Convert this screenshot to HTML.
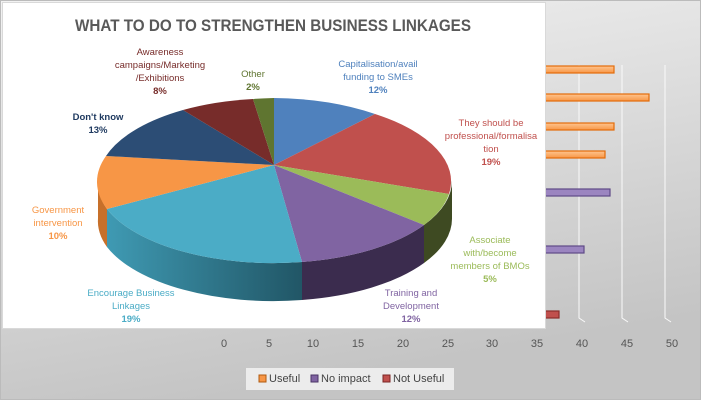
<!DOCTYPE html><html><head><style>
body{margin:0;width:701px;height:400px;overflow:hidden;font-family:"Liberation Sans",sans-serif}
</style></head><body>
<svg width="701" height="400" xmlns="http://www.w3.org/2000/svg" font-family="Liberation Sans, sans-serif">
<defs>
<linearGradient id="bg" x1="0" y1="0" x2="0.3" y2="1"><stop offset="0" stop-color="#f2f2f2"/><stop offset="1" stop-color="#c4c4c4"/></linearGradient>
<linearGradient id="ob" x1="0" y1="0" x2="0" y2="1"><stop offset="0" stop-color="#ffc58f"/><stop offset="1" stop-color="#f79646"/></linearGradient>
<linearGradient id="cy" x1="0" y1="0" x2="1" y2="0"><stop offset="0" stop-color="#3f9ab3"/><stop offset="1" stop-color="#215666"/></linearGradient>
</defs>
<rect width="701" height="400" fill="url(#bg)"/>
<rect x="0.5" y="0.5" width="700" height="399" fill="none" stroke="#bbb"/>
<g stroke="#fafafa" stroke-width="1" fill="none">
<path d="M579 65V318l6 4M622 65V318l6 4M665 65V318l6 4"/>
</g>
<g stroke-width="1.2">
<rect x="530" y="66" width="84" height="7" fill="url(#ob)" stroke="#e36c0a"/>
<rect x="530" y="94" width="119" height="7" fill="url(#ob)" stroke="#e36c0a"/>
<rect x="530" y="123" width="84" height="7" fill="url(#ob)" stroke="#e36c0a"/>
<rect x="530" y="151" width="75" height="7" fill="url(#ob)" stroke="#e36c0a"/>
<rect x="530" y="189" width="80" height="7" fill="#9b85c0" stroke="#5f4a87"/>
<rect x="530" y="246" width="54" height="7" fill="#9b85c0" stroke="#5f4a87"/>
<rect x="530" y="311" width="29" height="7" fill="#c0504d" stroke="#8c2d2a"/>
</g>
<g font-size="11" fill="#555" text-anchor="middle">
<text x="224" y="347">0</text><text x="269" y="347">5</text><text x="313" y="347">10</text><text x="358" y="347">15</text><text x="403" y="347">20</text><text x="448" y="347">25</text><text x="492" y="347">30</text><text x="537" y="347">35</text><text x="582" y="347">40</text><text x="627" y="347">45</text><text x="672" y="347">50</text>
</g>
<rect x="246" y="368" width="208" height="22" fill="#ececec"/>
<g font-size="11" fill="#444">
<rect x="259" y="375" width="7" height="7" fill="#f79646" stroke="#b05a10"/><text x="269" y="382">Useful</text>
<rect x="311" y="375" width="7" height="7" fill="#8064a2" stroke="#4a3466"/><text x="321" y="382">No impact</text>
<rect x="383" y="375" width="7" height="7" fill="#c0504d" stroke="#7a2523"/><text x="393" y="382">Not Useful</text>
</g>
<rect x="2.5" y="2.5" width="543" height="326" fill="#fff" stroke="#d9d9d9"/>
<text x="75" y="31" font-size="17" font-weight="bold" fill="#595959" textLength="396" lengthAdjust="spacingAndGlyphs">WHAT TO DO TO STRENGTHEN BUSINESS LINKAGES</text>
<g>
<path d="M98 180 A177 82 0 0 0 107 209 L107 247 A177 82 0 0 1 98 218Z" fill="#c7702a"/>
<path d="M107 209 A177 82 0 0 0 302 262 L302 300 A177 82 0 0 1 107 247Z" fill="url(#cy)"/>
<path d="M302 262 A177 82 0 0 0 424 225 L424 263 A177 82 0 0 1 302 300Z" fill="#3b2c4e"/>
<path d="M424 225 A177 82 0 0 0 452 180 L452 218 A177 82 0 0 1 424 263Z" fill="#3e4a22"/>
</g>
<g stroke="none">
<path d="M274 165 L274 98 A177 82 0 0 1 375 114Z" fill="#4f81bd"/>
<path d="M274 165 L375 114 A177 82 0 0 1 449 194Z" fill="#c0504d"/>
<path d="M274 165 L449 194 A177 82 0 0 1 424 225Z" fill="#9bbb59"/>
<path d="M274 165 L424 225 A177 82 0 0 1 302 262Z" fill="#8064a2"/>
<path d="M274 165 L302 262 A177 82 0 0 1 107 209Z" fill="#4bacc6"/>
<path d="M274 165 L107 209 A177 82 0 0 1 106 156Z" fill="#f79646"/>
<path d="M274 165 L106 156 A177 82 0 0 1 183 110Z" fill="#2c4d75"/>
<path d="M274 165 L183 110 A177 82 0 0 1 253 99Z" fill="#772c2a"/>
<path d="M274 165 L253 99 A177 82 0 0 1 274 98Z" fill="#5f7530"/>
</g>
<g font-size="9.5" text-anchor="middle" font-weight="bold">
<g fill="#4f81bd"><text x="378" y="67" font-weight="normal">Capitalisation/avail</text><text x="378" y="80" font-weight="normal">funding to SMEs</text><text x="378" y="93">12%</text></g>
<g fill="#c0504d"><text x="491" y="126" font-weight="normal">They should be</text><text x="491" y="139" font-weight="normal">professional/formalisa</text><text x="491" y="152" font-weight="normal">tion</text><text x="491" y="165">19%</text></g>
<g fill="#9bbb59"><text x="490" y="243" font-weight="normal">Associate</text><text x="490" y="256" font-weight="normal">with/become</text><text x="490" y="269" font-weight="normal">members of BMOs</text><text x="490" y="282">5%</text></g>
<g fill="#8064a2"><text x="411" y="296" font-weight="normal">Training and</text><text x="411" y="309" font-weight="normal">Development</text><text x="411" y="322">12%</text></g>
<g fill="#4bacc6"><text x="131" y="296" font-weight="normal">Encourage Business</text><text x="131" y="309" font-weight="normal">Linkages</text><text x="131" y="322">19%</text></g>
<g fill="#f79646"><text x="58" y="213" font-weight="normal">Government</text><text x="58" y="226" font-weight="normal">intervention</text><text x="58" y="239">10%</text></g>
<g fill="#1f3a60"><text x="98" y="120">Don't know</text><text x="98" y="133">13%</text></g>
<g fill="#772c2a"><text x="160" y="55" font-weight="normal">Awareness</text><text x="160" y="68" font-weight="normal">campaigns/Marketing</text><text x="160" y="81" font-weight="normal">/Exhibitions</text><text x="160" y="94">8%</text></g>
<g fill="#5f7530"><text x="253" y="77" font-weight="normal">Other</text><text x="253" y="90">2%</text></g>
</g>
</svg>
</body></html>
